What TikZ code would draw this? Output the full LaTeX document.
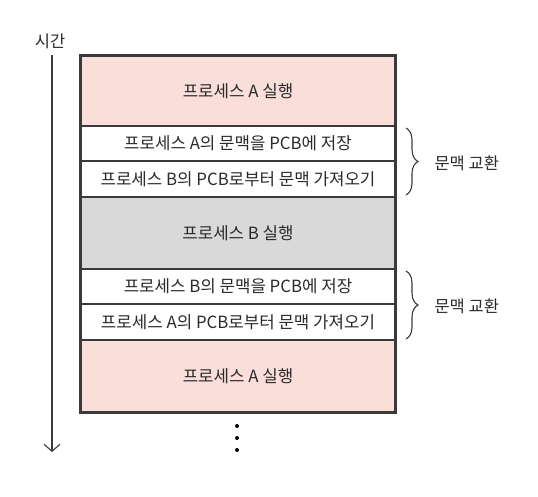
\documentclass[tikz,border=0pt]{standalone}
\usepackage{fontspec}
\setmainfont{Noto Sans CJK KR}
\usetikzlibrary{arrows.meta,decorations.pathreplacing}
\definecolor{pinkfill}{HTML}{F9DEDA}
\definecolor{grayfill}{HTML}{D9D9D9}
\definecolor{linecol}{HTML}{3A3A3A}
\definecolor{textcol}{HTML}{2A2A2A}
\tikzset{
  rowbox/.style={draw=linecol, line width=1.3pt, minimum width=314pt, inner sep=0pt, text=textcol, font=\fontsize{16.8}{17}\selectfont},
  runbox/.style={rowbox, fill=pinkfill},
  runboxb/.style={rowbox, fill=grayfill},
  ctxbox/.style={rowbox, fill=white},
  bracestyle/.style={draw=linecol, line width=1.1pt, decorate, decoration={brace, amplitude=12pt, aspect=0.5}},
  lbl/.style={text=textcol, font=\fontsize{16.5}{17}\selectfont},
  dot/.style={circle, fill=black, inner sep=0pt, minimum size=4pt}
}
\begin{document}
\begin{tikzpicture}[x=1pt,y=1pt]
\useasboundingbox (0,0) rectangle (538,-496);
% time arrow
\coordinate (tTop) at (52,-55);
\coordinate (tBot) at (52,-452);
\draw[linecol, line width=1.1pt, -{Straight Barb[length=7pt,width=16pt]}] (tTop) -- (tBot);
\node[lbl] (time) at (50,-41) {시간};
% rows
\node[runbox, minimum height=70pt] (r1) at (238,-91) {프로세스 A 실행};
\node[ctxbox, minimum height=35pt] (r2) at (238,-143.5) {프로세스 A의 문맥을 PCB에 저장};
\node[ctxbox, minimum height=36pt] (r3) at (238,-179) {프로세스 B의 PCB로부터 문맥 가져오기};
\node[runboxb, minimum height=72pt] (r4) at (238,-233) {프로세스 B 실행};
\node[ctxbox, minimum height=35pt] (r5) at (238,-286.5) {프로세스 B의 문맥을 PCB에 저장};
\node[ctxbox, minimum height=36pt] (r6) at (238,-322) {프로세스 A의 PCB로부터 문맥 가져오기};
\node[runbox, minimum height=72pt] (r7) at (238,-376) {프로세스 A 실행};
\draw[linecol, line width=1.8pt] (r1.north west) rectangle (r7.south east);
% braces
\coordinate (b1t) at (406,-128);
\coordinate (b1b) at (406,-195);
\draw[bracestyle] (b1t) -- (b1b);
\node[lbl, anchor=west] (cs1) at (431,-163) {문맥 교환};
\coordinate (b2t) at (406,-271);
\coordinate (b2b) at (406,-339);
\draw[bracestyle] (b2t) -- (b2b);
\node[lbl, anchor=west] (cs2) at (431,-306) {문맥 교환};
% dots
\node[dot] (d1) at (237,-426) {};
\node[dot] (d2) at (237,-438) {};
\node[dot] (d3) at (237,-450) {};
\end{tikzpicture}
\end{document}
